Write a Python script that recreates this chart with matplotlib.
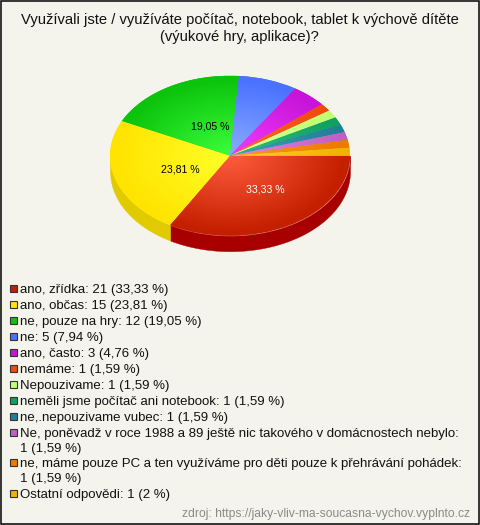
import numpy as np
import matplotlib
matplotlib.use("Agg")
import matplotlib.pyplot as plt
from matplotlib.patches import Rectangle
from matplotlib.colors import to_rgb

title = "Využívali jste / využíváte počítač, notebook, tablet k výchově dítěte\n(výukové hry, aplikace)?"
labels = ["ano, zřídka: 21 (33,33 %)", "ano, občas: 15 (23,81 %)", "ne, pouze na hry: 12 (19,05 %)",
          "ne: 5 (7,94 %)", "ano, často: 3 (4,76 %)", "nemáme: 1 (1,59 %)", "Nepouzivame: 1 (1,59 %)",
          "neměli jsme počítač ani notebook: 1 (1,59 %)", "ne,.nepouzivame vubec: 1 (1,59 %)",
          "Ne, poněvadž v roce 1988 a 89 ještě nic takového v domácnostech nebylo:\n1 (1,59 %)",
          "ne, máme pouze PC a ten využíváme pro děti pouze k přehrávání pohádek:\n1 (1,59 %)",
          "Ostatní odpovědi: 1 (2 %)"]
values = [21, 15, 12, 5, 3, 1, 1, 1, 1, 1, 1, 1]
edge_colors = ["#c42000", "#ffe400", "#0cc40c", "#4a72ff", "#c814d8", "#f04a0c",
               "#c0ff70", "#10a060", "#208098", "#c060c0", "#ee7a00", "#f0b400"]
center_colors = ["#ff5c3e", "#ffff28", "#3cff3c", "#8cacff", "#f23cff", "#ff6a30",
                 "#dcffa0", "#30c080", "#40a0b8", "#e088e0", "#ff9a20", "#ffd030"]
side_colors = ["#a80000", "#e2ca00", "#0aa00a", "#3a5ad0", "#a010b0", "#c03a08",
               "#9acc58", "#0c804c", "#1a6678", "#9a4c9a", "#be6200", "#c09000"]
pct_texts = ["33,33 %", "23,81 %", "19,05 %"]
pct_colors = ["white", "black", "black"]
source = "zdroj: https://jaky-vliv-ma-soucasna-vychov.vyplnto.cz"

plt.rcParams["font.family"] = ["Liberation Sans", "DejaVu Sans"]
W, H = 480, 525
BG = "#f4f4ec"
fig = plt.figure(figsize=(W / 100, H / 100), dpi=100, facecolor=BG)

cx, cy, rx, ry, depth = 230, 155.7, 120, 80, 15.5
ax = fig.add_axes([0, 0, 1, 1])
wedges, _ = ax.pie(values, startangle=0, counterclock=False, radius=1, colors=edge_colors)
ax.set_aspect("auto")
ax.axis("off")

ends = np.cumsum(values) / np.sum(values) * 2 * np.pi
starts = np.r_[0, ends[:-1]]
d = depth / ry
for s, e, c in zip(starts, ends, side_colors):
    lo, hi = s, min(e, np.pi)
    if lo >= np.pi:
        continue
    t = np.linspace(lo, hi, 80)
    ax.fill_between(np.cos(t), -np.sin(t), -np.sin(t) - d, color=c, lw=0.3, zorder=1)

n = 300
g = np.linspace(-1, 1, n)
X, Y = np.meshgrid(g, g)
R = np.clip(np.hypot(X, Y) / 0.95, 0, 1)[..., None]
for w, ce, ed in zip(wedges, center_colors, edge_colors):
    img = np.array(to_rgb(ce)) * (1 - R) + np.array(to_rgb(ed)) * R
    w.set_zorder(2)
    w.set_linewidth(0)
    im = ax.imshow(img, extent=(-1, 1, -1, 1), origin="lower", aspect="auto",
                   interpolation="bilinear", zorder=3)
    im.set_clip_path(w)
ax.set_xlim(-cx / rx, (W - cx) / rx)
ax.set_ylim((cy - H) / ry, cy / ry)

ov = fig.add_axes([0, 0, 1, 1])
ov.set_xlim(0, W)
ov.set_ylim(H, 0)
ov.axis("off")
ov.patch.set_alpha(0)
ov.add_patch(Rectangle((0.7, 0.7), W - 1.4, H - 1.4, fc="none", ec="black", lw=1.1))
ov.text(239.5, 28.5, title, ha="center", va="center", fontsize=10.62, linespacing=1.2, color="#111111")

pct_pos = [(265.7, 189), (180.7, 170), (210, 126.3)]
for (x, y), s, c in zip(pct_pos, pct_texts, pct_colors):
    ov.text(x, y, s, ha="center", va="center", fontsize=7.6, color=c, zorder=5)

rows = [289, 305, 321, 337, 353, 369, 385, 401, 417, 433, 463, 494]
for y, lab, c in zip(rows, labels, edge_colors):
    ov.add_patch(Rectangle((10, y - 4), 7, 7, fc=c, ec="#333333", lw=0.8))
    first = lab.split("\n")
    ov.text(20, y + 1, first[0], ha="left", va="center", fontsize=9.58, color="#111111")
    if len(first) > 1:
        ov.text(20, y + 16, first[1], ha="left", va="center", fontsize=9.58, color="#111111")
ov.text(470, 513.5, source, ha="right", va="center", fontsize=8.72, color="#8a8a8a")

fig.savefig("out.png", dpi=100, facecolor=BG)
